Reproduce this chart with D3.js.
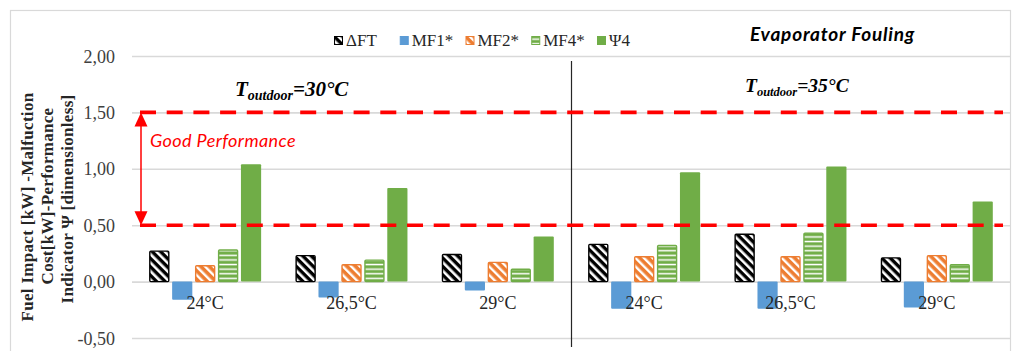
<!DOCTYPE html>
<html>
<head>
<meta charset="utf-8">
<script src="https://cdn.jsdelivr.net/npm/d3@7"></script>
<style>
  body { margin: 0; background: #fff; }
  svg { display: block; }
</style>
</head>
<body>
<svg id="chart" width="1016" height="351"></svg>
<script>
// ---- data ----
const categories = ["24°C", "26,5°C", "29°C", "24°C", "26,5°C", "29°C"];
const seriesNames = ["ΔFT", "MF1*", "MF2*", "MF4*", "Ψ4"];
const deltaFT = [0.27, 0.23, 0.24, 0.33, 0.42, 0.21];
const mf1 = [-0.16, -0.14, -0.08, -0.24, -0.24, -0.23];
const mf2 = [0.14, 0.15, 0.17, 0.22, 0.22, 0.23];
const mf4 = [0.28, 0.19, 0.11, 0.32, 0.43, 0.15];
const psi4 = [1.04, 0.83, 0.40, 0.97, 1.02, 0.71];
const yTicks = [-0.5, 0, 0.5, 1, 1.5, 2];
const thresholds = [0.5, 1.5];
const outdoorTemps = ["=30°C", "=35°C"];
const yTitleLines = ["Fuel Impact [kW] -Malfuction", "Cost[kW]-Performance", "Indicator Ψ [dimensionless]"];

const seriesValues = [deltaFT, mf1, mf2, mf4, psi4];

const svg = d3.select("#chart");
const defs = svg.append("defs");

// ---- fill patterns ----
function diagPattern(id, bg, stripe, size, w) {
  const p = defs.append("pattern").attr("id", id)
    .attr("patternUnits", "userSpaceOnUse")
    .attr("width", size).attr("height", size)
    .attr("patternTransform", "rotate(-45)");
  p.append("rect").attr("width", size).attr("height", size).attr("fill", bg);
  p.append("rect").attr("width", w).attr("height", size).attr("fill", stripe);
}
diagPattern("pat-dft", "#000", "#fff", 6, 2.6);
diagPattern("pat-mf2", "#ed7d31", "#fff", 6, 2.4);
const hp = defs.append("pattern").attr("id", "pat-mf4")
  .attr("patternUnits", "userSpaceOnUse").attr("width", 8).attr("height", 4.6);
hp.append("rect").attr("width", 8).attr("height", 4.6).attr("fill", "#70ad47");
hp.append("rect").attr("y", 1.6).attr("width", 8).attr("height", 1.5).attr("fill", "#fff");

const seriesStyle = [
  { fill: "url(#pat-dft)", stroke: "#000" },
  { fill: "#5b9bd5", stroke: "none" },
  { fill: "url(#pat-mf2)", stroke: "#ed7d31" },
  { fill: "url(#pat-mf4)", stroke: "#70ad47" },
  { fill: "#70ad47", stroke: "none" }
];

// ---- frame ----
svg.append("rect").attr("x", 10.5).attr("y", 10.5).attr("width", 1000).attr("height", 360)
  .attr("fill", "none").attr("stroke", "#d9d9d9").attr("stroke-width", 1.2);

// ---- scales ----
const plotLeft = 132, plotRight = 1010;
const x = d3.scaleBand().domain(d3.range(categories.length)).range([plotLeft, plotRight]).padding(0);
const x1 = d3.scaleBand().domain(d3.range(seriesNames.length)).range([0, x.bandwidth()])
  .paddingInner(0.12).paddingOuter(0.75);
const y = d3.scaleLinear().domain([-0.5, 2]).range([338, 56]);

const locale = d3.formatLocale({ decimal: ",", thousands: ".", grouping: [3], currency: ["", ""], minus: "-" });
const fmt = locale.format(".2f");

// ---- gridlines ----
const grid = svg.append("g").attr("transform", `translate(${plotLeft},0)`)
  .call(d3.axisLeft(y).tickValues(yTicks).tickSize(-(plotRight - plotLeft)).tickFormat(""));
grid.select(".domain").remove();
grid.selectAll(".tick line").attr("stroke", "#d9d9d9").attr("stroke-width", 1.6);

// ---- y tick labels ----
const yAxis = svg.append("g").attr("transform", `translate(${plotLeft},0)`)
  .call(d3.axisLeft(y).tickValues(yTicks).tickSize(0).tickPadding(17).tickFormat(fmt));
yAxis.select(".domain").remove();
yAxis.selectAll("text").attr("font-family", "Liberation Serif, Times New Roman, serif")
  .attr("font-size", 18).attr("fill", "#404040").attr("dy", "0.34em");

// ---- y title ----
const yTitle = svg.append("g").attr("font-family", "Liberation Serif, Times New Roman, serif")
  .attr("font-weight", "bold").attr("font-size", 17).attr("letter-spacing", 0.3).attr("fill", "#262626");
const titleX = [27, 47, 67];
const titleY = [207, 196, 199];
yTitleLines.forEach((t, i) => {
  yTitle.append("text")
    .attr("transform", `translate(${titleX[i]},${titleY[i]}) rotate(-90)`)
    .attr("text-anchor", "middle").attr("dy", "0.35em").text(t);
});

// ---- bars ----
const groups = svg.append("g").selectAll("g").data(categories).join("g")
  .attr("transform", (d, i) => `translate(${x(i)},0)`);
groups.selectAll("rect")
  .data((d, i) => seriesValues.map((vals, s) => ({ s, v: vals[i] })))
  .join("rect")
  .attr("x", d => x1(d.s) + (seriesStyle[d.s].stroke !== "none" ? 0.6 : 0))
  .attr("width", d => x1.bandwidth() - (seriesStyle[d.s].stroke !== "none" ? 1.2 : 0))
  .attr("y", d => y(Math.max(0, d.v)))
  .attr("height", d => Math.abs(y(d.v) - y(0)))
  .attr("rx", 1)
  .attr("fill", d => seriesStyle[d.s].fill)
  .attr("stroke", d => seriesStyle[d.s].stroke)
  .attr("stroke-width", 1.4);

// ---- category labels ----
const xAxis = svg.append("g").attr("transform", `translate(0,${y(0)})`)
  .call(d3.axisBottom(x).tickSize(0).tickPadding(15).tickFormat(i => categories[i]));
xAxis.select(".domain").remove();
xAxis.selectAll("text").attr("font-family", "Liberation Serif, Times New Roman, serif")
  .attr("font-size", 18).attr("fill", "#262626");

// ---- divider between outdoor temperatures ----
const divX = Math.round(x(3)) + 0.5;
svg.append("line").attr("x1", divX).attr("x2", divX).attr("y1", 61).attr("y2", 347)
  .attr("stroke", "#262626").attr("stroke-width", 1.2);

// ---- performance band ----
svg.append("g").selectAll("line").data(thresholds).join("line")
  .attr("x1", 140).attr("x2", 1003)
  .attr("y1", d => y(d)).attr("y2", d => y(d))
  .attr("stroke", "#ff0000").attr("stroke-width", 3.6)
  .attr("stroke-dasharray", "16 10.7");

const arrowX = 141;
svg.append("line").attr("x1", arrowX).attr("x2", arrowX)
  .attr("y1", y(1.5) + 12).attr("y2", y(0.5) - 12)
  .attr("stroke", "#ff0000").attr("stroke-width", 1.5);
svg.append("path")
  .attr("d", `M${arrowX},${y(1.5)} L${arrowX - 6.5},${y(1.5) + 14} L${arrowX + 6.5},${y(1.5) + 14} Z`)
  .attr("fill", "#ff0000");
svg.append("path")
  .attr("d", `M${arrowX},${y(0.5)} L${arrowX - 6.5},${y(0.5) - 14} L${arrowX + 6.5},${y(0.5) - 14} Z`)
  .attr("fill", "#ff0000");
svg.append("text").attr("x", 150).attr("y", 147)
  .attr("font-family", "Lato, Noto Sans, sans-serif").attr("font-style", "italic")
  .attr("font-size", 18).attr("letter-spacing", 0.4).attr("fill", "#ff0000").text("Good Performance");

// ---- outdoor temperature labels ----
function outdoorLabel(px, py, big, small, tail) {
  const t = svg.append("text").attr("x", px).attr("y", py)
    .attr("font-family", "Liberation Serif, Times New Roman, serif")
    .attr("font-weight", "bold").attr("font-style", "italic").attr("fill", "#000");
  t.append("tspan").attr("font-size", big).text("T");
  t.append("tspan").attr("font-size", small).attr("dy", 4).text("outdoor");
  t.append("tspan").attr("font-size", big).attr("dy", -4).text(tail);
}
outdoorLabel(235, 96, 21, 14, outdoorTemps[0]);
outdoorLabel(745, 92, 19.5, 12.5, outdoorTemps[1]);

// ---- legend ----
const legend = svg.append("g");
const legendStep = 65.75;
seriesNames.forEach((name, s) => {
  const g = legend.append("g").attr("transform", `translate(${334 + s * legendStep},0)`);
  g.append("rect").attr("x", 0.5).attr("y", 36.5).attr("width", 8).attr("height", 8)
    .attr("fill", seriesStyle[s].fill)
    .attr("stroke", seriesStyle[s].stroke === "none" ? seriesStyle[s].fill : seriesStyle[s].stroke)
    .attr("stroke-width", 1);
  g.append("text").attr("x", 12).attr("y", 46)
    .attr("font-family", "Liberation Serif, Times New Roman, serif")
    .attr("font-size", 17).attr("fill", "#262626").text(name);
});

svg.append("text").attr("x", 750).attr("y", 41)
  .attr("font-family", "Lato, Noto Sans, sans-serif").attr("font-weight", "bold")
  .attr("font-style", "italic").attr("font-size", 19).attr("letter-spacing", 0.8).attr("fill", "#000")
  .text("Evaporator Fouling");
</script>
</body>
</html>
